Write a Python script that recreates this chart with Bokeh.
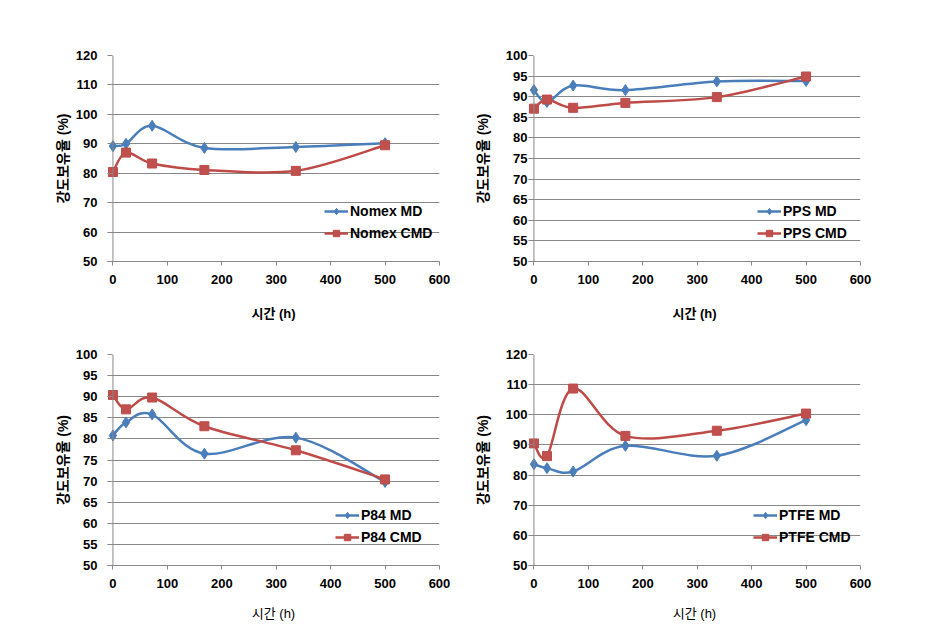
from bokeh.plotting import figure
from bokeh.models import Range1d, Span, Legend, LegendItem, FixedTicker
from bokeh.layouts import column, row
from bokeh.embed import file_html
from bokeh.resources import INLINE

hours = [0, 24, 72, 168, 336, 500]

nomex_md = [89.2, 90.0, 96.1, 88.6, 88.9, 90.2]
nomex_cmd = [80.4, 87.0, 83.3, 81.1, 80.8, 89.5]
pps_md = [91.6, 88.7, 92.7, 91.6, 93.7, 93.8]
pps_cmd = [87.1, 89.3, 87.3, 88.5, 89.9, 94.9]
p84_md = [80.8, 83.9, 85.8, 76.5, 80.3, 69.8]
p84_cmd = [90.4, 87.0, 89.8, 83.0, 77.3, 70.4]
ptfe_md = [83.6, 82.3, 81.2, 89.7, 86.4, 98.2]
ptfe_cmd = [90.5, 86.3, 108.7, 93.0, 94.7, 100.4]

x_ticks = [0, 100, 200, 300, 400, 500, 600]
x_label = "시간 (h)"
y_label = "강도보유율 (%)"

BLUE = "#4A7EBB"
RED = "#BE4B48"
GRID = "#888888"
FONT = "Liberation Sans, Noto Sans CJK KR"


def bezier_segments(xs, ys):
    n = len(xs)
    out = dict(x0=[], y0=[], x1=[], y1=[], cx0=[], cy0=[], cx1=[], cy1=[])
    for i in range(n - 1):
        pm = max(i - 1, 0)
        pp = min(i + 2, n - 1)
        out["x0"].append(xs[i]); out["y0"].append(ys[i])
        out["x1"].append(xs[i + 1]); out["y1"].append(ys[i + 1])
        out["cx0"].append(xs[i] + (xs[i + 1] - xs[pm]) / 6.0)
        out["cy0"].append(ys[i] + (ys[i + 1] - ys[pm]) / 6.0)
        out["cx1"].append(xs[i + 1] - (xs[pp] - xs[i]) / 6.0)
        out["cy1"].append(ys[i + 1] - (ys[pp] - ys[i]) / 6.0)
    return out


def panel(name, md, cmd, ymax, ystep, width, left_border, right_border,
          height, top_border, bottom_border, tick_standoff, ylab_standoff,
          xlab_standoff, leg_x, bold_x):
    p = figure(width=width, height=height, output_backend="svg", toolbar_location=None,
               x_range=Range1d(-10, 600), y_range=Range1d(50, ymax),
               min_border_left=left_border, min_border_right=right_border,
               min_border_top=top_border, min_border_bottom=bottom_border)
    p.outline_line_color = None
    p.background_fill_color = "white"
    p.border_fill_color = "white"
    p.xgrid.grid_line_color = None
    p.ygrid.grid_line_color = GRID
    p.ygrid.grid_line_width = 1
    p.ygrid.ticker = FixedTicker(ticks=list(range(50, ymax + 1, ystep)))

    xa = p.xaxis[0]
    xa.ticker = FixedTicker(ticks=x_ticks)
    xa.axis_line_color = GRID
    xa.major_tick_line_color = GRID
    xa.major_tick_out = 4
    xa.major_tick_in = 0
    xa.minor_tick_line_color = None
    xa.major_label_text_font = FONT
    xa.major_label_text_font_style = "bold"
    xa.major_label_text_font_size = "13px"
    xa.major_label_text_color = "black"
    xa.major_label_standoff = 9
    xa.axis_label = x_label
    xa.axis_label_text_font = FONT
    xa.axis_label_text_font_style = "bold" if bold_x else "normal"
    xa.axis_label_text_font_size = "13px"
    xa.axis_label_text_color = "black"
    xa.axis_label_standoff = xlab_standoff

    ya = p.yaxis[0]
    ya.ticker = FixedTicker(ticks=list(range(50, ymax + 1, ystep)))
    ya.axis_line_color = None
    ya.major_tick_line_color = GRID
    ya.major_tick_in = 5
    ya.major_tick_out = 0
    ya.minor_tick_line_color = None
    ya.major_label_text_font = FONT
    ya.major_label_text_font_style = "bold"
    ya.major_label_text_font_size = "13px"
    ya.major_label_text_color = "black"
    ya.major_label_standoff = tick_standoff
    ya.axis_label = y_label
    ya.axis_label_text_font = FONT
    ya.axis_label_text_font_style = "bold"
    ya.axis_label_text_font_size = "14px"
    ya.axis_label_text_color = "black"
    ya.axis_label_standoff = ylab_standoff

    p.add_layout(Span(location=0, dimension="height", line_color=GRID, line_width=1))

    b_md = p.bezier(source=bezier_segments(hours, md), x0="x0", y0="y0", x1="x1", y1="y1",
                    cx0="cx0", cy0="cy0", cx1="cx1", cy1="cy1", line_color=BLUE, line_width=2.5)
    b_cmd = p.bezier(source=bezier_segments(hours, cmd), x0="x0", y0="y0", x1="x1", y1="y1",
                     cx0="cx0", cy0="cy0", cx1="cx1", cy1="cy1", line_color=RED, line_width=2.5)
    s_md = p.scatter(hours, md, marker="diamond", size=11, fill_color=BLUE, line_color=BLUE)
    s_cmd = p.scatter(hours, cmd, marker="square", size=9, fill_color="#C0504D", line_color=RED)

    legend = Legend(items=[LegendItem(label=name + " MD", renderers=[b_md, s_md]),
                           LegendItem(label=name + " CMD", renderers=[b_cmd, s_cmd])],
                    location=(leg_x, 20), orientation="vertical",
                    background_fill_alpha=0, border_line_color=None,
                    padding=0, margin=0, spacing=6,
                    glyph_width=24, glyph_height=16, label_height=16,
                    label_standoff=2, label_text_font=FONT,
                    label_text_font_size="14px", label_text_font_style="bold",
                    label_text_color="black")
    p.add_layout(legend, "center")
    return p


p1 = panel("Nomex", nomex_md, nomex_cmd, 120, 10, 463, 107, 24, 323, 55, 58, 10, 2, 19, 217, True)
p2 = panel("PPS", pps_md, pps_cmd, 100, 5, 463, 65, 66, 323, 54, 58, 1, 12, 19, 229, True)
p3 = panel("P84", p84_md, p84_cmd, 100, 5, 463, 107, 24, 313, 30, 71, 10, 2, 15, 228, False)
p4 = panel("PTFE", ptfe_md, ptfe_cmd, 120, 10, 463, 65, 66, 313, 31, 70, 1, 12, 15, 225, False)

layout = column(row(p1, p2), row(p3, p4))

open("out.html", "w").write(file_html(layout, INLINE))
